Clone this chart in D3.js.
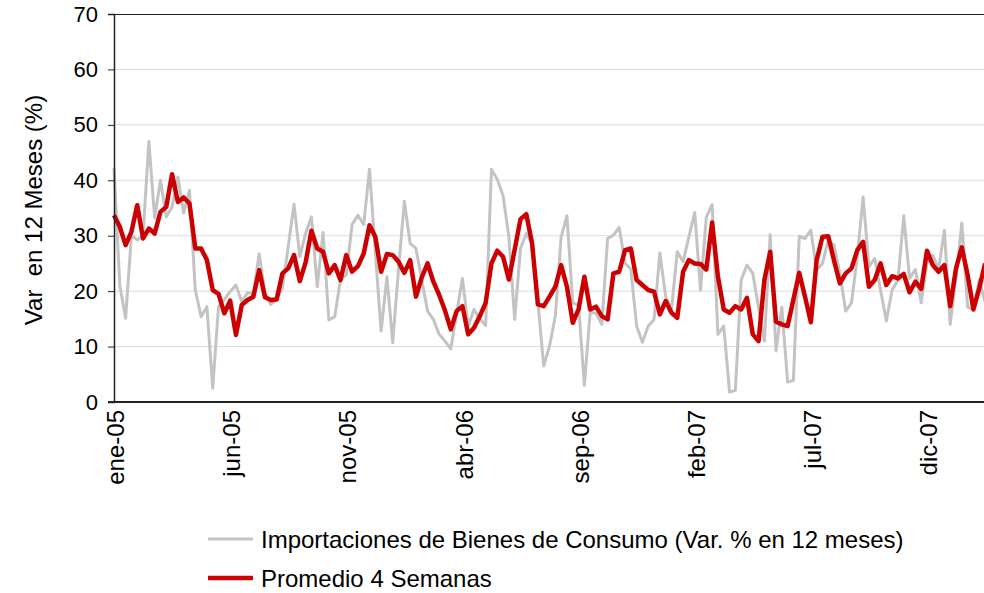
<!DOCTYPE html>
<html>
<head>
  <meta charset="utf-8">
  <title>Importaciones de Bienes de Consumo</title>
  <script src="https://d3js.org/d3.v7.min.js"></script>
  <style>
    body {
      margin: 0;
      background: #ffffff;
    }
    text {
      font-family: "Liberation Sans", Arial, sans-serif;
      fill: #000000;
    }
    .grid line {
      stroke: #dcdcdc;
    }
  </style>
</head>
<body>
  <div id="chart"></div>
  <script>
    // weekly values (week 0 = first week of ene-05)
    var importaciones = [
      42.2, 21, 15.1, 30.1, 29.2, 30, 47, 33.2, 40, 33.4,
      35.2, 40.6, 34.1, 38.2, 20.2, 15.4, 17.2, 2.5, 17.2, 18.5,
      19.9, 21.1, 18.1, 19.7, 19.6, 26.7, 19.6, 17.6, 18.5, 20.5,
      28, 35.7, 26.2, 30.4, 33.4, 20.8, 30.6, 14.8, 15.4, 22,
      23, 32, 33.7, 32, 42, 27, 12.8, 22.6, 10.7, 24,
      36.2, 28.6, 27.7, 22, 16.4, 14.9, 12.2, 11, 9.6, 16,
      22.3, 13.7, 16.7, 15, 13.8, 42, 40.2, 37.2, 29.8, 14.9,
      27.7, 30.4, 28.6, 18, 6.5, 10.1, 15.5, 29.8, 33.6, 17.9,
      17.5, 3, 16.2, 16, 14, 29.5, 30.1, 31.5, 25, 24,
      13.7, 10.8, 13.7, 14.9, 26.9, 19, 16.7, 27.1, 25.3, 29.8,
      34.2, 20.2, 33.3, 35.6, 12.2, 13.7, 1.8, 2.1, 22, 24.7,
      23.2, 17, 11, 30.2, 9.2, 17.1, 3.6, 3.9, 29.9, 29.5,
      31, 23.8, 25, 29.2, 28.3, 23.2, 16.4, 17.9, 26.2, 37,
      24.4, 25.9, 20.2, 14.6, 20.2, 22, 33.6, 22.3, 23.9, 17.9,
      25, 26.5, 24, 31, 14, 22.6, 32.3, 17.1, 16.7, 22, 18
    ];

    var promedio4 = [
      33.7, 31.6, 28.3, 30.7, 35.5, 29.5, 31.3, 30.4, 34.3, 35.2,
      41.1, 36.1, 36.9, 35.8, 27.7, 27.7, 25.6, 20.2, 19.5, 16,
      18.3, 12.1, 17.5, 18.4, 19, 23.8, 18.9, 18.4, 18.5, 23.2,
      24.1, 26.5, 21.8, 25.2, 30.9, 27.7, 27.1, 23.2, 24.7, 22,
      26.5, 23.5, 24.5, 26.8, 31.9, 29.8, 23.5, 26.7, 26.5, 25.3,
      23.3, 25.6, 19, 22.5, 25, 21.7, 19.3, 16.5, 13.1, 16.4,
      17.3, 12.2, 13.4, 15.5, 17.9, 25, 27.3, 26.2, 22.1, 27.5,
      33, 33.9, 28.6, 17.6, 17.3, 19, 20.8, 24.7, 20.8, 14.3,
      16.7, 22.6, 16.7, 17.2, 15.5, 14.9, 23.2, 23.5, 27.4, 27.7,
      22, 21.1, 20.2, 19.9, 15.8, 18.2, 16.1, 15.2, 23.5, 25.6,
      25, 24.9, 23.9, 32.4, 22.6, 16.7, 16.1, 17.3, 16.7, 18.8,
      12.2, 11, 22, 27.1, 14.5, 14, 13.7, 18.5, 23.3, 19,
      14.4, 25.6, 29.8, 29.9, 25.5, 21.4, 23.2, 24.1, 27.4, 28.9,
      20.8, 22, 25, 21.1, 22.7, 22.3, 23.1, 19.8, 21.7, 20.4,
      27.3, 24.7, 23.5, 24.7, 17.3, 24.1, 27.9, 22.9, 16.7, 20.5, 25
    ];

    // one label every 20 weeks
    var tickLabels = ["ene-05", "jun-05", "nov-05", "abr-06", "sep-06", "feb-07", "jul-07", "dic-07"];
    var tickStep = 20;
    var yTicks = [0, 10, 20, 30, 40, 50, 60, 70];

    var seriesNames = ["Importaciones de Bienes de Consumo (Var. % en 12 meses)", "Promedio 4 Semanas"];

    var svg = d3.select("#chart")
      .append("svg")
      .attr("width", 984)
      .attr("height", 593);

    var margin = {top: 14, left: 114};
    var plotBottom = 402;
    var weekWidth = 5.807;
    var n = importaciones.length;

    var x = d3.scaleLinear()
      .domain([0, n - 1])
      .range([margin.left, margin.left + (n - 1) * weekWidth]);

    var y = d3.scaleLinear()
      .domain([0, 70])
      .range([plotBottom, margin.top]);

    // gridlines
    svg.append("g")
      .attr("class", "grid")
      .selectAll("line")
      .data(yTicks.slice(1, -1))
      .enter()
      .append("line")
      .attr("x1", margin.left)
      .attr("x2", 984)
      .attr("y1", function(d) { return y(d); })
      .attr("y2", function(d) { return y(d); });

    // top border of the plot area
    svg.append("line")
      .attr("x1", margin.left)
      .attr("x2", 984)
      .attr("y1", y(70) + 0.5)
      .attr("y2", y(70) + 0.5)
      .style("stroke", "#222")
      .style("stroke-width", 1);

    var line = d3.line()
      .x(function(d, i) { return x(i); })
      .y(function(d) { return y(d); });

    svg.append("path")
      .datum(importaciones)
      .attr("d", line)
      .attr("fill", "none")
      .style("stroke", "#c3c3c3")
      .style("stroke-width", 3)
      .style("stroke-linejoin", "round");

    svg.append("path")
      .datum(promedio4)
      .attr("d", line)
      .attr("fill", "none")
      .style("stroke", "#cc0000")
      .style("stroke-width", 4.5)
      .style("stroke-linejoin", "round");

    // y axis
    var yAxis = svg.append("g")
      .attr("transform", "translate(" + margin.left + ",0)")
      .call(d3.axisLeft(y).tickValues(yTicks).tickSize(6).tickPadding(10));
    yAxis.select(".domain").style("stroke", "#222").style("stroke-width", 1.5);
    yAxis.selectAll(".tick line").style("stroke", "#222");
    yAxis.selectAll("text")
      .style("font-size", "22px")
      .style("font-family", "'Liberation Sans', Arial, sans-serif");

    // x axis, labels turned up
    var tickIdx = tickLabels.map(function(d, i) { return i * tickStep; });
    var xAxis = svg.append("g")
      .attr("transform", "translate(0," + plotBottom + ")")
      .call(d3.axisBottom(x)
        .tickValues(tickIdx)
        .tickSize(0)
        .tickFormat(function(d, i) { return tickLabels[i]; }));
    xAxis.select(".domain")
      .attr("d", "M" + (margin.left - 6) + ",0H984")
      .style("stroke", "#222")
      .style("stroke-width", 2);
    xAxis.selectAll("text")
      .attr("transform", "rotate(-90)")
      .attr("x", -8)
      .attr("y", 1)
      .attr("dy", "0.36em")
      .style("text-anchor", "end")
      .style("font-size", "24px")
      .style("font-family", "'Liberation Sans', Arial, sans-serif");

    // y axis title
    svg.append("text")
      .attr("transform", "translate(33," + ((margin.top + plotBottom) / 2 + 2) + ") rotate(-90)")
      .attr("dy", "0.36em")
      .attr("text-anchor", "middle")
      .style("font-size", "24px")
      .attr("xml:space", "preserve")
      .text("Var  en 12 Meses (%)");

    // legend
    var legend = svg.append("g");
    var legendColors = ["#c3c3c3", "#cc0000"];
    var legendWidths = [3, 4.5];
    var legendY = [539, 578];

    seriesNames.forEach(function(name, i) {
      legend.append("line")
        .attr("x1", 208)
        .attr("x2", 253)
        .attr("y1", legendY[i])
        .attr("y2", legendY[i])
        .style("stroke", legendColors[i])
        .style("stroke-width", legendWidths[i]);
      legend.append("text")
        .attr("x", 261)
        .attr("y", legendY[i])
        .attr("dy", "0.36em")
        .style("font-size", "24px")
        .text(name);
    });
  </script>
</body>
</html>
